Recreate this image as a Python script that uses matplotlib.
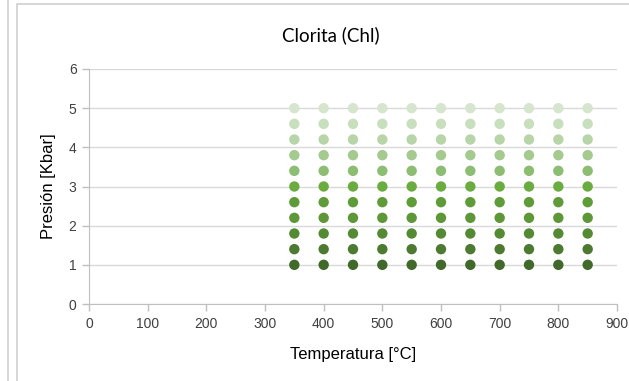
import matplotlib
matplotlib.use("Agg")
import matplotlib.pyplot as plt
from matplotlib.lines import Line2D
from matplotlib.patches import Rectangle

temperatures = [350, 400, 450, 500, 550, 600, 650, 700, 750, 800, 850]
pressures = [1.0, 1.4, 1.8, 2.2, 2.6, 3.0, 3.4, 3.8, 4.2, 4.6, 5.0]
row_colors = ["#40692a", "#4c7a30", "#558a35", "#5d9737", "#5f9b39", "#6aac3f",
              "#8cbd73", "#a4ca8f", "#b7d5a8", "#c8dfbd", "#d6e6ce"]
x_ticks = [0, 100, 200, 300, 400, 500, 600, 700, 800, 900]
y_ticks = [0, 1, 2, 3, 4, 5, 6]

W, H = 629, 381
fig = plt.figure(figsize=(W / 100, H / 100), dpi=100)
fig.patch.set_facecolor("white")

# outer frame lines
fig.add_artist(Line2D([8 / W, 8 / W], [0, 1], color="#d0d0d0", lw=1.2, transform=fig.transFigure))
fig.add_artist(Rectangle((17 / W, -0.1), 1.0, 1 - 4 / H + 0.1, transform=fig.transFigure,
                         fill=False, edgecolor="#d0d0d0", lw=1.2))

ax = fig.add_axes([89 / W, 1 - 304 / H, (617 - 89) / W, (304 - 69) / H])
for p, c in zip(pressures, row_colors):
    ax.scatter(temperatures, [p] * len(temperatures), s=56, color=c, edgecolors="none", zorder=3)

ax.set_xlim(0, 900)
ax.set_ylim(0, 6)
ax.set_xticks(x_ticks)
ax.set_yticks(y_ticks)
ax.grid(axis="y", color="#d9d9d9", lw=1)
ax.set_axisbelow(True)
for s in ["top", "right"]:
    ax.spines[s].set_visible(False)
for s in ["left", "bottom"]:
    ax.spines[s].set_color("#bfbfbf")
ax.tick_params(axis="both", color="#bfbfbf", length=5, width=1, labelsize=10,
               labelcolor="#404040", pad=4)
for lab in ax.get_xticklabels() + ax.get_yticklabels():
    lab.set_fontfamily("Liberation Sans")

ax.set_xlabel("Temperatura [°C]", fontsize=12, family="Liberation Sans", color="#000000", labelpad=12)
ax.set_ylabel("Presión [Kbar]", fontsize=12, family="Liberation Sans", color="#000000", labelpad=9)
fig.text(331 / W, 1 - 35 / H, "Clorita (Chl)", ha="center", va="center", fontsize=13.5,
         family="Lato", color="#000000")

fig.savefig("out.png", dpi=100)
